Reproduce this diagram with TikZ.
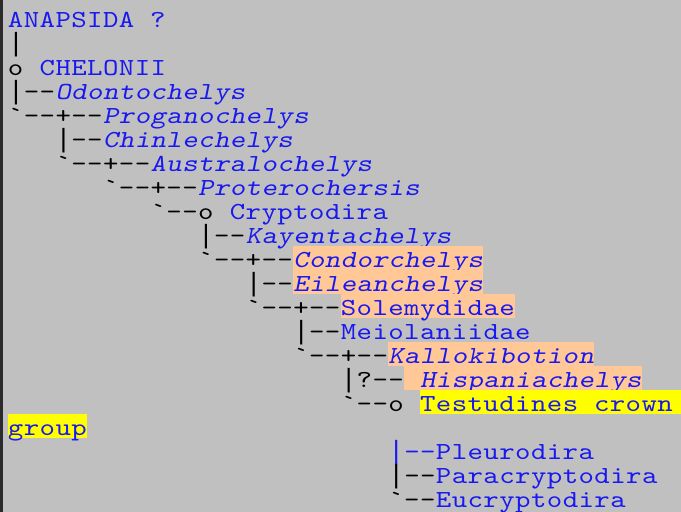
\documentclass[tikz,border=0pt]{standalone}
\usepackage{fontspec}
% typewriter face, stretched and tracked to a 15.85pt cell
\setmonofont{lmmono10-regular.otf}[
  ItalicFont=lmmonoslant10-regular.otf,
  FakeStretch=1.2,
  LetterSpace=1.7]
\newfontfamily\barfont{Liberation Mono}
\definecolor{panel}{HTML}{C0C0C0}
\definecolor{rim}{HTML}{2B2B2B}
\definecolor{taxon}{RGB}{24,24,240}
\definecolor{peach}{RGB}{255,200,150}
\definecolor{hilite}{RGB}{255,255,0}
% column pitch of the monospaced tree
\newcommand\pitch{15.85}
\newcommand\gap{\hspace*{15.85pt}}
% full-height vertical bar occupying one cell
\newcommand\vbar{\makebox[15.85pt]{\barfont\fontsize{26.4}{24}\selectfont|}}
\begin{document}
\begin{tikzpicture}[x=1pt,y=-1pt,
  every node/.style={anchor=base west, inner sep=0pt, outer sep=0pt,
    font=\ttfamily\fontsize{24.5}{24}\selectfont},
  branch/.style={text=black},
  clade/.style={text=taxon},
  genus/.style={text=taxon, font=\ttfamily\itshape\fontsize{24.5}{24}\selectfont},
  marked/.style={fill=peach, text height=21pt, text depth=3pt},
  crown/.style={fill=hilite, text height=21pt, text depth=3pt},
]
\useasboundingbox (0,0) rectangle (681,512);
\fill[panel] (0,0) rectangle (681,512);
\fill[rim] (0,0) rectangle (2.5,512);

% root
\node[clade]  (anap)  at (8+\pitch*0, 27) {ANAPSIDA\gap?};
\node[branch] (b1)    at (8+\pitch*0, 51) {\vbar};
\node[branch] (b2)    at (8+\pitch*0, 75) {o};
\node[clade]  (chel)  at (8+\pitch*2, 75) {CHELONII};
\node[branch] (b3)    at (8+\pitch*0, 99) {\vbar--};
\node[genus]  (odon)  at (8+\pitch*3, 99) {Odontochelys};
\node[branch] (b4)    at (8+\pitch*0,123) {`--+--};
\node[genus]  (prog)  at (8+\pitch*6,123) {Proganochelys};
\node[branch] (b5)    at (8+\pitch*3,147) {\vbar--};
\node[genus]  (chin)  at (8+\pitch*6,147) {Chinlechelys};
\node[branch] (b6)    at (8+\pitch*3,171) {`--+--};
\node[genus]  (aust)  at (8+\pitch*9,171) {Australochelys};
\node[branch] (b7)    at (8+\pitch*6,195) {`--+--};
\node[genus]  (prot)  at (8+\pitch*12,195) {Proterochersis};
\node[branch] (b8)    at (8+\pitch*9,219) {`--o};
\node[clade]  (cryp)  at (8+\pitch*14,219) {Cryptodira};
\node[branch] (b9)    at (8+\pitch*12,243) {\vbar--};
\node[genus]  (kaye)  at (8+\pitch*15,243) {Kayentachelys};
\node[branch] (b10)   at (8+\pitch*12,267) {`--+--};
\node[genus,marked] (cond) at (8+\pitch*18,267) {Condorchelys};
\node[branch] (b11)   at (8+\pitch*15,291) {\vbar--};
\node[genus,marked] (eile) at (8+\pitch*18,291) {Eileanchelys};
\node[branch] (b12)   at (8+\pitch*15,315) {`--+--};
\node[clade,marked] (sole) at (8+\pitch*21,315) {Solemydidae};
\node[branch] (b13)   at (8+\pitch*18,339) {\vbar--};
\node[clade]  (meio)  at (8+\pitch*21,339) {Meiolaniidae};
\node[branch] (b14)   at (8+\pitch*18,363) {`--+--};
\node[genus,marked] (kall) at (8+\pitch*24,363) {Kallokibotion};
\node[branch] (b15)   at (8+\pitch*21,387) {\vbar?--};
\node[genus,marked] (hisp) at (8+\pitch*25,387) {\gap Hispaniachelys};
\node[branch] (b16)   at (8+\pitch*21,411) {`--o};
\node[clade,crown] (test) at (8+\pitch*26,411) {Testudines\gap crown\gap\gap};
\node[clade,crown] (grp)  at (8+\pitch*0,435) {group};

% crown-group branches
\node[clade]  (pleu)  at (8+\pitch*24,459) {\vbar--Pleurodira};
\node[branch] (b19)   at (8+\pitch*24,483) {\vbar--};
\node[clade]  (para)  at (8+\pitch*27,483) {Paracryptodira};
\node[branch] (b20)   at (8+\pitch*24,507) {`--};
\node[clade]  (eucr)  at (8+\pitch*27,507) {Eucryptodira};
\end{tikzpicture}
\end{document}
